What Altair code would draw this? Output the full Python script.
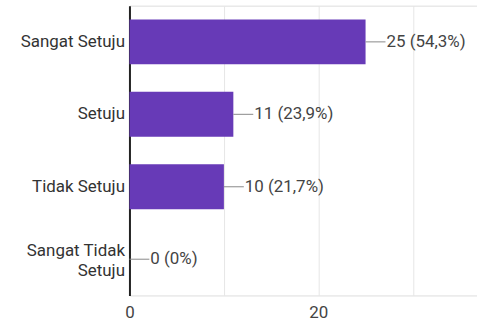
import altair as alt
import pandas as pd

categories = ["Sangat Setuju", "Setuju", "Tidak Setuju", "Sangat Tidak Setuju"]
counts = [25, 11, 10, 0]
percents = ["54,3%", "23,9%", "21,7%", "0%"]

df = pd.DataFrame({"cat": categories, "n": counts, "pct": percents})
df["label"] = [f"{n} ({p})" for n, p in zip(counts, percents)]

FONT = "Roboto"
FS = 17

y_enc = alt.Y(
    "cat:N",
    sort=categories,
    title=None,
    scale=alt.Scale(paddingInner=0.38, paddingOuter=0.19),
    axis=alt.Axis(
        domain=True, domainColor="#222222", domainWidth=2,
        ticks=False, labelPadding=5, labelFontSize=FS, labelColor="#333333",
        labelFont=FONT, labelLimit=200, labelLineHeight=20,
        labelOffset={"condition": {"test": "datum.value == 'Sangat Tidak Setuju'", "value": -8}, "value": 0},
        labelExpr="datum.label == 'Sangat Tidak Setuju' ? ['Sangat Tidak', 'Setuju'] : datum.label",
    ),
)

x_enc = alt.X(
    "n:Q",
    title=None,
    scale=alt.Scale(domain=[0, 36.8], nice=False, zero=True),
    axis=alt.Axis(
        values=[0, 10, 20, 30], domain=False, ticks=False,
        grid=True, gridColor="#e6e6e6", gridWidth=1,
        labelFontSize=FS, labelColor="#444444", labelFont=FONT, labelPadding=9,
        labelExpr="datum.value % 20 == 0 ? datum.label : ''",
        labelFlush=False,
    ),
)

bars = alt.Chart(df).mark_bar(color="#673AB7").encode(x=x_enc, y=y_enc)

rules = alt.Chart(df).mark_rule(color="#888888", strokeWidth=1, x2Offset=20).encode(
    x="n:Q", x2="n:Q", y=alt.Y("cat:N", sort=categories, bandPosition=0.5)
)

texts = alt.Chart(df).mark_text(
    align="left", baseline="middle", dx=21, fontSize=FS, color="#444444", font=FONT
).encode(x="n:Q", y=alt.Y("cat:N", sort=categories), text="label:N")

chart = (
    alt.layer(bars, rules, texts)
    .properties(
        width=349, height=291,
        autosize=alt.AutoSizeParams(type="none"),
        padding={"left": 130, "top": 5, "right": 0, "bottom": 28},
    )
    .configure_view(stroke="#e6e6e6")
    .configure(background="white")
)

chart.save("out.html", embed_options={"renderer": "svg", "actions": False})
